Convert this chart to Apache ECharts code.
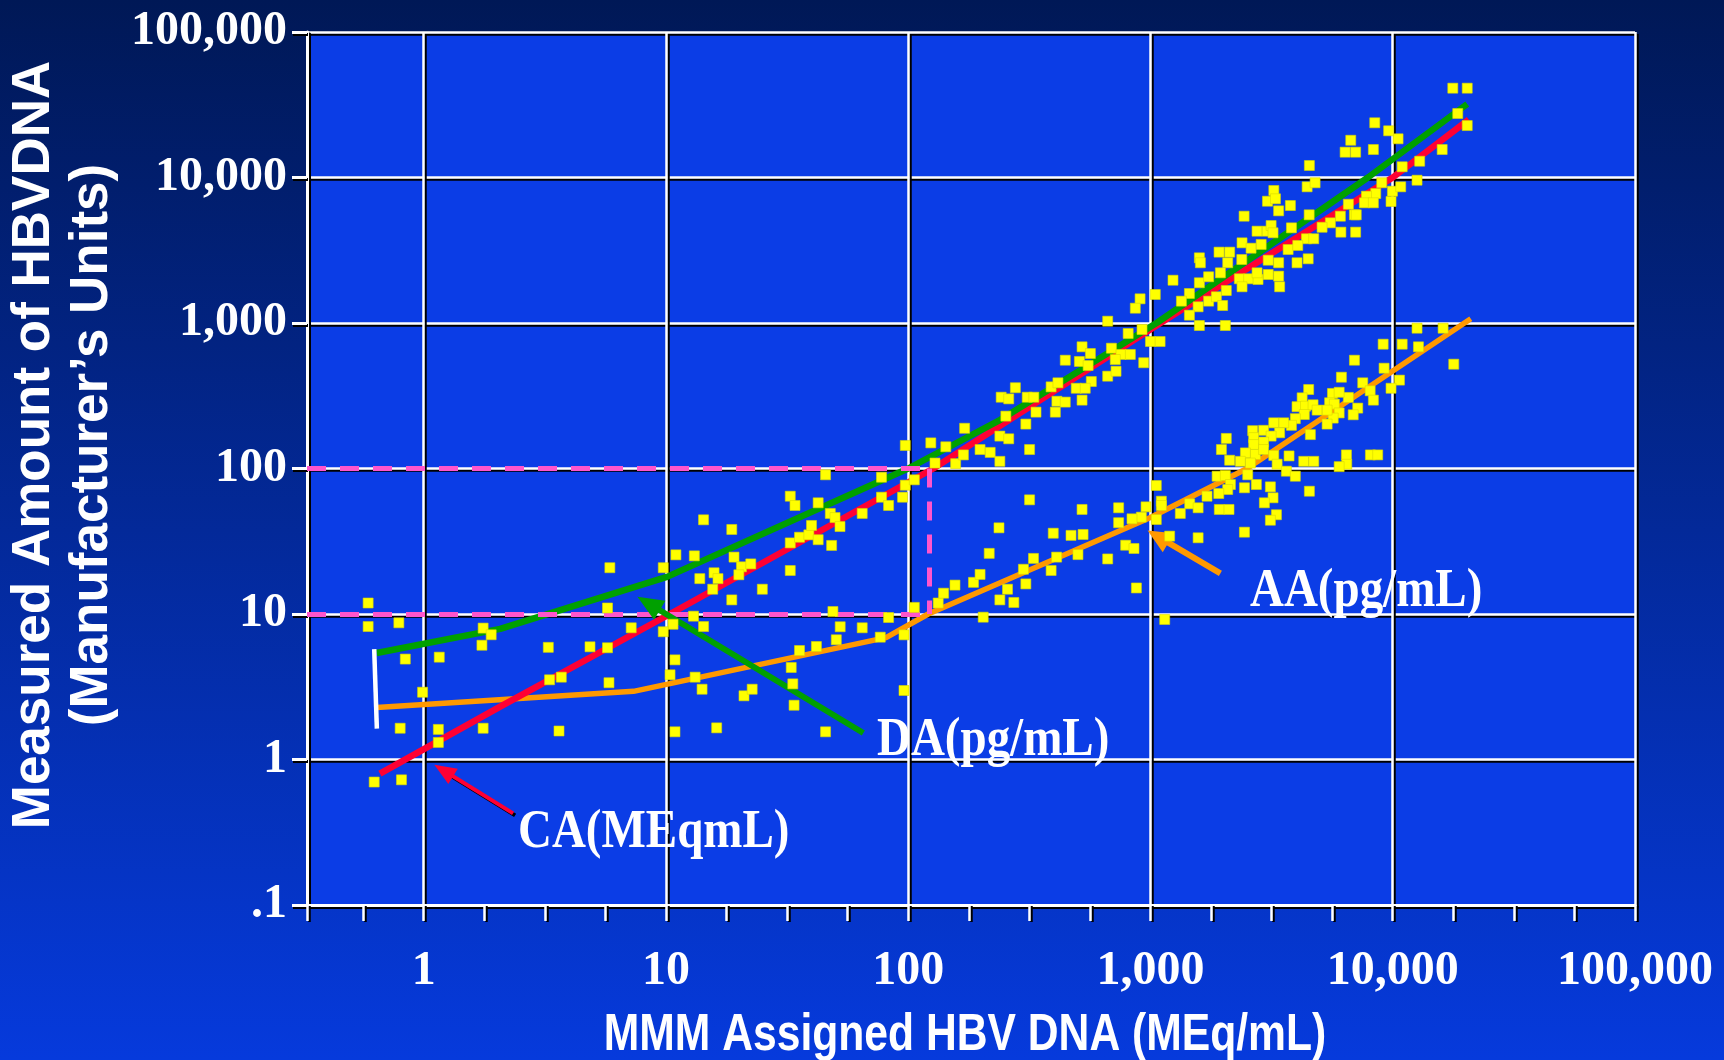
<!DOCTYPE html>
<html>
<head>
<meta charset="utf-8">
<script src="https://cdn.jsdelivr.net/npm/echarts@6/dist/echarts.min.js"></script>
<style>
html,body{margin:0;padding:0;background:#001856;}
#chart{width:1724px;height:1060px;}
</style>
</head>
<body>
<div id="chart"></div>
<script>
// ---------- axis definitions ----------
const xMin = 0.33, xMax = 100000;
const yMin = 0.1, yMax = 100000;
const xTickValues = [1, 10, 100, 1000, 10000, 100000];
const xTickLabels = ['1', '10', '100', '1,000', '10,000', '100,000'];
const yTickValues = [0.1, 1, 10, 100, 1000, 10000, 100000];
const yTickLabels = ['.1', '1', '10', '100', '1,000', '10,000', '100,000'];
const xTitle = 'MMM Assigned HBV DNA (MEq/mL)';
const yTitle = 'Measured Amount of HBVDNA\n(Manufacturer\u2019s Units)';

// ---------- measurements (x = assigned MEq/mL, y = measured units) ----------
const caDaPoints = [
  [0.59,11.9],[0.59,8.2],[0.79,8.7],[0.84,4.9],[1.16,5.05],[1.15,1.61],[1.15,1.31],[0.625,0.70],[0.81,0.725],
  [1.76,8.0],[1.9,7.2],[1.74,6.1],[3.27,5.9],[3.31,3.53],[3.7,3.68],[4.86,5.95],[5.74,5.86],[5.74,11.0],
  [5.87,20.8],[7.19,8.04],[9.75,20.8],[10.7,8.5],[9.75,7.55],[11.0,25.5],
  [14.3,44.4],[18.7,38.1],[13.1,25.1],[13.8,17.5],[15.8,19.2],[16.4,17.5],[15.6,14.8],[19.1,24.6],[20.5,21.1],
  [22.4,22.1],[20.0,18.6],[18.7,12.5],[25.0,14.8],[13.0,9.66],[14.3,8.2],
  [32.6,64.5],[34.1,55.7],[42.5,58.1],[45.6,90.5],[32.6,30.8],[35.6,33.7],[38.9,35.0],[39.9,40.6],[42.5,32.4],
  [47.7,49.1],[49.9,46.0],[52.3,39.9],[48.3,29.6],[32.6,19.9],[64.6,49.1],[77.6,87.1],[77.6,63.5],[83,55.7],
  [94.8,63.5],[97.3,76.8],[106,83.6],[97.3,144],[124,150],[143,141],[129,109],[157,108],[169,124],[171,189],
  [198,135],[218,129],[239,112],[239,167],[260,160],[253,229],[306,202],[317,135],[337,244],[242,309],[260,301],
  [277,359],[310,309],[330,309],[389,364],[415,388],[405,244],[411,290],
  [2754,4276],[3030,4276],[3148,4677],[3206,4169],[3819,4508],[4406,3793],[4721,3793],[2388,3556],[2602,3266],
  [2864,3467],[1919,3069],[2123,3069],[1592,2805],[1607,2594],[2084,2594],[2382,2731],[3062,2702],[3381,2594],
  [3700,3199],[4055,3412],[4027,2594],[4477,2762],[1239,1968],[1592,1890],[1738,2078],[1944,2213],[2328,2013],
  [2543,2013],[2780,1991],[2754,2213],[3062,2154],[3381,2099],[2388,1774],[3414,1774],[2056,1672],[1448,1595],
  [1342,1413],[1573,1292],[1738,1413],[1871,1514],[1986,1319],[1448,1132],[1592,961],[2037,961],[1047,1570],
  [906,1466],[866,1264],[666,1029],[923,902],[809,847],[1000,746],[1096,746],[690,671],[756,608],[826,608],
  [522,686],[565,617],[445,555],[509,544],[553,510],[716,561],[938,533],[666,431],[721,466],[570,396],[494,356],
  [538,356],[522,295],[445,286],
  [17700,41100],[20300,41100],[18550,27540],[20300,22750],[16000,15570],[12920,12940],[12600,9580],[10940,11850],
  [10520,18450],[9620,20940],[8430,23770],[6710,18030],[6360,14930],[7030,14930],[8320,15570],[4529,12090],
  [4433,8630],[4782,9200],[3781,6420],[9010,9200],[8510,7760],[7790,7440],[9970,8050],[10790,8630],[7640,6700],
  [8320,6700],[9840,6840],[6560,6550],[6080,5420],[6950,5540],[7070,5540],[5530,4880],[5110,4550],[4519,5540],
  [6110,4210],[7030,4210],
  [3230,8140],[3041,6870],[3281,7140],[2435,5420],[3381,5900]
];
const aaPoints = [
  [0.99,2.9],[0.80,1.64],[1.76,1.64],[3.62,1.57],[5.82,3.37],[10.9,4.84],[10.4,3.82],[10.9,1.55],[13.2,3.68],
  [14.1,3.04],[16.2,1.65],[21.0,2.74],[22.7,3.04],
  [48.9,10.4],[52.4,8.17],[64.6,8.04],[50.5,6.65],[41.8,5.98],[35.6,5.61],[32.9,4.29],[33.4,3.31],[33.8,2.36],
  [45.6,1.55],[76.7,6.93],[83.0,9.46],[96.1,7.19],[96.1,2.98],[106,11.1],[133,11.9],[140,13.9],[156,15.8],
  [186,16.5],[198,18.7],[204,9.51],[216,26.1],[237,39.1],[239,12.5],[257,14.8],[273,12.0],[299,20.3],[306,16.1],
  [329,24.1],[389,19.9],[397,35.9],[410,24.6],[317,60.9],
  [4498,349],[4227,306],[4027,266],[4365,268],[4690,274],[4875,252],[4315,235],[3963,220],[3819,198],[3548,206],
  [3228,206],[3414,176],[4571,171],[2931,183],[2642,182],[2667,163],[3148,167],[2931,152],[2056,161],[1963,135],
  [2667,146],[2466,128],[2710,125],[2931,135],[3228,123],[3733,122],[2123,114],[2350,112],[2585,109],[3333,107],
  [4293,112],[4721,112],[3639,95.8],[3963,88.5],[2520,90.5],[1884,88.5],[2037,89.5],[2138,77.6],[2736,77.6],
  [3126,74.8],[2443,73.7],[2084,71.7],[1914,67.3],[1712,64.5],[3206,62.9],[4529,69.8],[2953,58.1],[1452,57.2],
  [1573,53.7],[1924,52.3],[2110,52.3],[1109,59.6],[1109,55.7],[1057,76.4],[1328,49.1],[3311,48.1],[3126,44.1],
  [959,54.5],[1057,44.6],[917,46.3],[839,45.1],[739,53.7],[739,42.4],[522,52.3],[1200,34.3],[1573,33.4],
  [2443,36.5],[790,29.7],[855,28.2],[527,35.2],[470,34.7],[502,25.6],[666,23.9],[875,15.1],[1145,9.17],
  [12600,921],[16140,921],[12770,686],[10940,715],[9130,715],[17860,521],[6950,555],[9210,489],[10660,405],
  [9840,356],[6140,424],[7520,388],[8070,342],[8320,295],[6560,308],[7170,260],[6870,234],[5640,328],[6010,334],
  [5490,283],[5740,277],[6010,241],[5680,222],[5360,202],[5360,252],[8090,124],[8670,124],[6440,124],[6460,107],
  [6010,103]
];

// ---------- fitted curves ----------
const caLine = [[0.66,0.8],[2.07,2.31],[10.4,10],[127,100],[1100,1000],[10000,10000],[20600,25000]];
const daLine = [[0.64,5.4],[2.07,7.9],[10.1,18],[100,100],[240,216],[1060,1000],[7900,10000],[20300,32000]];
const aaLine = [[0.64,2.28],[7.35,2.94],[81,6.88],[121,10],[1000,46],[2506,100],[10000,468],[21000,1070]];

// ---------- reference marks ----------
const cutoffX = 122;
const cutoffLevels = [10, 100];
const rangeBar = [[0.625, 5.73], [0.641, 1.63]];
const caArrow = [[2.34, 0.426], [1.21, 0.84]];
const daArrow = [[65.3, 1.52], [8.48, 11.8]];
const aaArrow = [[1944, 19.0], [1074, 34.0]];

// minor tick positions (quarter decades)
const xAllTicks = [xMin];
for (let k = -1; k <= 20; k++) xAllTicks.push(Math.pow(10, k / 4));

function labelFor(values, labels) {
  return function (v) {
    for (let i = 0; i < values.length; i++) {
      if (Math.abs(values[i] - v) / values[i] < 1e-6) return labels[i];
    }
    return '';
  };
}

const whiteShadowLine = {color: '#ffffff', width: 3, shadowColor: '#000000', shadowOffsetX: 2, shadowOffsetY: 2, shadowBlur: 0};
const gridLine = {color: '#ffffff', width: 2.5, shadowColor: '#000000', shadowOffsetX: 2, shadowOffsetY: 2, shadowBlur: 0};
const tickFont = {
  fontFamily: '"Liberation Serif", "Times New Roman", serif', fontWeight: 'bold', fontSize: 48,
  color: '#ffffff', textShadowColor: '#000000', textShadowOffsetX: 2, textShadowOffsetY: 2, textShadowBlur: 0
};
const annFont = 'bold 54px "Liberation Serif", "Times New Roman", serif';
const pink = {color: '#FF55CC', width: 5, type: [19, 14]};
const pointStyle = {color: '#FFFF00', opacity: 1, borderColor: '#D8D800', borderWidth: 0.6};

function seg(a, b, extra) {
  return [Object.assign({coord: a}, extra || {}), {coord: b}];
}

const chart = echarts.init(document.getElementById('chart'), null, {renderer: 'canvas'});
chart.setOption({
  animation: false,
  backgroundColor: {
    type: 'linear', x: 0, y: 0, x2: 0, y2: 1,
    colorStops: [{offset: 0, color: '#001856'}, {offset: 1, color: '#063ADC'}]
  },
  grid: {left: 307, right: 89, top: 32, bottom: 155, show: true, backgroundColor: '#0B3DE6', borderWidth: 0},
  xAxis: [
    {
      type: 'log', logBase: 10, min: xMin, max: xMax,
      axisLine: {show: true, onZero: false, lineStyle: whiteShadowLine},
      axisTick: {show: false},
      splitLine: {show: true, lineStyle: gridLine},
      axisLabel: Object.assign({margin: 43, showMaxLabel: true, showMinLabel: true, formatter: labelFor(xTickValues, xTickLabels)}, tickFont)
    },
    {
      type: 'log', logBase: 10, min: xMin, max: xMax, position: 'bottom',
      axisLine: {show: false},
      splitLine: {show: false},
      axisLabel: {show: false},
      axisTick: {show: true, length: 16, customValues: xAllTicks, lineStyle: {color: '#ffffff', width: 2.5, shadowColor: '#000', shadowOffsetX: 2, shadowOffsetY: 1}}
    }
  ],
  yAxis: {
    type: 'log', logBase: 10, min: yMin, max: yMax,
    axisLine: {show: true, onZero: false, lineStyle: whiteShadowLine},
    axisTick: {show: true, length: 15, lineStyle: {color: '#ffffff', width: 3, shadowColor: '#000', shadowOffsetX: 1, shadowOffsetY: 2}},
    splitLine: {show: true, lineStyle: gridLine},
    axisLabel: Object.assign({margin: 20, formatter: labelFor(yTickValues, yTickLabels)}, tickFont)
  },
  series: [
    {
      name: 'AA', type: 'line', z: 2, data: aaLine, showSymbol: false, silent: true,
      lineStyle: {color: '#FF9900', width: 5.5},
      markLine: {
        silent: true, symbol: 'none', label: {show: false}, animation: false,
        data: [
          seg([xMin, cutoffLevels[1]], [cutoffX, cutoffLevels[1]], {lineStyle: pink}),
          seg([xMin, cutoffLevels[0]], [cutoffX, cutoffLevels[0]], {lineStyle: pink}),
          seg([cutoffX, cutoffLevels[1]], [cutoffX, cutoffLevels[0]], {lineStyle: pink}),
          seg(rangeBar[0], rangeBar[1], {lineStyle: {color: '#ffffff', width: 4.5, type: 'solid'}})
        ]
      }
    },
    {
      name: 'AA arrow', type: 'line', z: 6, data: [], silent: true,
      markLine: {
        silent: true, symbol: ['none', 'triangle'], symbolSize: [22, 24], label: {show: false}, animation: false,
        lineStyle: {color: '#FF9900', width: 6, type: 'solid'},
        data: [seg(aaArrow[0], aaArrow[1])]
      }
    },
    {
      name: 'CA', type: 'line', z: 3, data: caLine, showSymbol: false, silent: true,
      lineStyle: {color: '#FF0033', width: 6.5}
    },
    {
      name: 'CA arrow', type: 'line', z: 6, data: [], silent: true,
      markLine: {
        silent: true, symbol: ['none', 'triangle'], symbolSize: [18, 22], label: {show: false}, animation: false,
        lineStyle: {color: '#FF0033', width: 4, type: 'solid', shadowColor: '#000', shadowOffsetX: 2, shadowOffsetY: 2},
        data: [seg(caArrow[0], caArrow[1])]
      }
    },
    {
      name: 'DA', type: 'line', z: 4, data: daLine, showSymbol: false, silent: true,
      lineStyle: {color: '#00A000', width: 6.5}
    },
    {
      name: 'DA arrow', type: 'line', z: 6, data: [], silent: true,
      markLine: {
        silent: true, symbol: ['none', 'triangle'], symbolSize: [22, 26], label: {show: false}, animation: false,
        lineStyle: {color: '#00A000', width: 6, type: 'solid'},
        data: [seg(daArrow[0], daArrow[1])]
      }
    },
    {
      name: 'CA / DA results', type: 'scatter', z: 5, data: caDaPoints, symbol: 'rect', symbolSize: 10, silent: true,
      itemStyle: pointStyle
    },
    {
      name: 'AA results', type: 'scatter', z: 5, data: aaPoints, symbol: 'rect', symbolSize: 10, silent: true,
      itemStyle: pointStyle
    }
  ],
  graphic: [
    {
      type: 'text', x: 63, y: 445, rotation: Math.PI / 2, silent: true,
      style: {text: yTitle, fill: '#ffffff', font: 'bold 53px "Liberation Sans", Arial, sans-serif',
        textAlign: 'center', textVerticalAlign: 'middle', align: 'center', verticalAlign: 'middle', lineHeight: 58}
    },
    {
      type: 'text', x: 965, y: 1036, scaleX: 0.82, silent: true,
      style: {text: xTitle, fill: '#ffffff', font: 'bold 52px "Liberation Sans", Arial, sans-serif',
        textAlign: 'center', textVerticalAlign: 'middle', align: 'center', verticalAlign: 'middle'}
    },
    {
      type: 'text', x: 518, y: 833, scaleX: 0.87, silent: true, z: 10,
      style: {text: 'CA(MEqmL)', fill: '#ffffff', font: annFont, textAlign: 'left', textVerticalAlign: 'middle',
        align: 'left', verticalAlign: 'middle', textShadowColor: '#000', textShadowOffsetX: 3, textShadowOffsetY: 3, textShadowBlur: 0}
    },
    {
      type: 'text', x: 877, y: 741, scaleX: 0.87, silent: true, z: 10,
      style: {text: 'DA(pg/mL)', fill: '#ffffff', font: annFont, textAlign: 'left', textVerticalAlign: 'middle',
        align: 'left', verticalAlign: 'middle', textShadowColor: '#000', textShadowOffsetX: 3, textShadowOffsetY: 3, textShadowBlur: 0}
    },
    {
      type: 'text', x: 1250, y: 592, scaleX: 0.87, silent: true, z: 10,
      style: {text: 'AA(pg/mL)', fill: '#ffffff', font: annFont, textAlign: 'left', textVerticalAlign: 'middle',
        align: 'left', verticalAlign: 'middle', textShadowColor: '#000', textShadowOffsetX: 3, textShadowOffsetY: 3, textShadowBlur: 0}
    }
  ]
});
</script>
</body>
</html>
